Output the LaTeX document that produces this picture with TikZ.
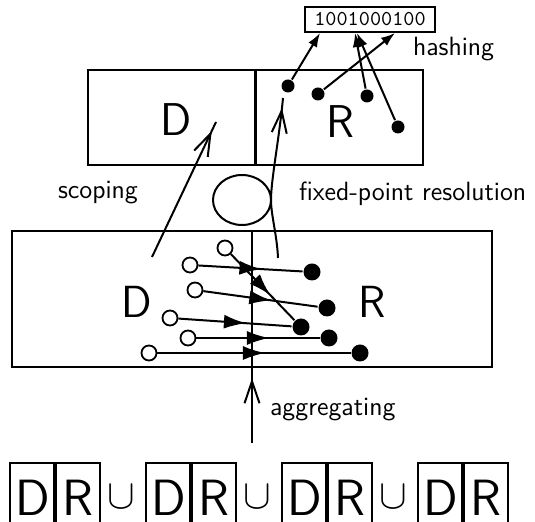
\documentclass[tikz,border=0pt]{standalone}
\usepackage{amsmath, amssymb}
\usetikzlibrary{positioning, arrows.meta, decorations.markings}

\begin{document}
\begin{tikzpicture}[
                x=0.5pt, y=-0.5pt,
                line width=1pt,
                frame/.style={draw, line width=1.2pt, inner sep=0},
                letter/.style={inner sep=0, font=\sffamily\fontsize{23}{23}\selectfont},
                cell/.style={
                    draw,
                    anchor=north west,
                    minimum width=22pt,
                    minimum height=35pt,
                    inner sep=0
                },
                cellletter/.style={inner sep=0, font=\sffamily\fontsize{25.5}{26}\selectfont},
                caption/.style={anchor=base west, inner sep=0, font=\sffamily\fontsize{13.2}{14}\selectfont},
                hollow/.style={circle, draw, line width=0.9pt, fill=white, minimum size=7.5pt, inner sep=0},
                full/.style={circle, fill, minimum size=8.5pt, inner sep=0},
                small/.style={circle, fill, minimum size=6.5pt, inner sep=0},
                midarrow/.style={
                    postaction={decorate},
                    decoration={markings,
                        mark=at position 0.5 with {\arrow[xshift=5.5pt]{Latex[length=11pt,width=7pt]}}}
                },
                barb/.style={
                    postaction={decorate},
                    decoration={markings,
                        mark=at position -5pt with {\arrow{Straight Barb[length=11pt,width=7.5pt]}}}
                },
                hasharrow/.style={-{Latex[length=7pt,width=5pt]}}
            ]
            \useasboundingbox (0,0) rectangle (535,522);
            \clip (0,0) rectangle (535,522);

            % oberer Kasten
            \node[frame, minimum width=167.5pt, minimum height=47.5pt] (top) at (255.5,117.5) {};
            \draw[line width=1.2pt] (top.north) -- (top.south);
            \node[letter] (topD) at (176,120) {D};
            \node[letter] (topR) at (340,122) {R};

            % hashing
            \node[frame, line width=1pt, minimum width=65pt, minimum height=12.5pt,
                font=\ttfamily\fontsize{10.6}{11}\selectfont] (hash) at (370,19.5) {1001000100};
            \node[caption] (hashing) at (412,56) {hashing};
            \node[small] (r1) at (288,86) {};
            \node[small] (r2) at (318,94) {};
            \node[small] (r3) at (367,96) {};
            \node[small] (r4) at (398,127) {};
            \coordinate (h1) at ([xshift=-25pt]hash.south);
            \coordinate (h2) at ([xshift=12.5pt]hash.south);
            \coordinate (h3) at ([xshift=-7.5pt]hash.south);
            \coordinate (h4) at ([xshift=-6.5pt]hash.south);
            \draw[hasharrow] (r1) -- (h1);
            \draw[hasharrow] (r2) -- (h2);
            \draw[hasharrow] (r3) -- (h3);
            \draw[hasharrow] (r4) -- (h4);

            % unterer Kasten
            \node[frame, minimum width=240pt, minimum height=68pt] (low) at (252,299) {};
            \draw (low.north) -- (low.south);
            \node[letter, font=\sffamily\fontsize{22.5}{23}\selectfont] (lowD) at (137,302) {D};
            \node[letter, font=\sffamily\fontsize{22.5}{23}\selectfont] (lowR) at (372,302) {R};

            \node[hollow] (o1) at (225,248) {};
            \node[hollow] (o2) at (190,265) {};
            \node[hollow] (o3) at (195,290) {};
            \node[hollow] (o4) at (170,318) {};
            \node[hollow] (o5) at (188,338) {};
            \node[hollow] (o6) at (149,353) {};
            \node[full] (f1) at (312,272) {};
            \node[full] (f2) at (327,308) {};
            \node[full] (f3) at (301,327) {};
            \node[full] (f4) at (329,338) {};
            \node[full] (f5) at (360,353) {};
            \draw[midarrow] (o1) -- (f3);
            \draw[midarrow] (o2) -- (f1);
            \draw[midarrow] (o3) -- (f2);
            \draw[midarrow] (o4) -- (f3);
            \draw[midarrow] (o5) -- (f4);
            \draw[midarrow] (o6) -- (f5);

            % scoping
            \coordinate (sc0) at (152,257);
            \coordinate (sc1) at (216,122);
            \draw[barb] (sc0) -- (sc1);
            \node[caption] (scoping) at (57,199) {scoping};

            % fixed-point resolution
            \coordinate (fp0) at (278,258);
            \coordinate (fp1) at (283,98);
            \draw[barb] (fp0) .. controls (277,235) and (271,215) .. (271,200)
                arc[start angle=0, end angle=-360, x radius=29, y radius=25]
                .. controls (271,180) and (279,140) .. (fp1);
            \node[caption] (fixpoint) at (298,201) {fixed-point resolution};

            % aggregating
            \coordinate (ag0) at (252,443);
            \draw[barb] (ag0) -- (low.south);
            \node[caption] (aggregating) at (269,416) {aggregating};

            % D|R u D|R u ...
            \foreach \i/\x in {1/9, 2/145, 3/281, 4/417} {
                \node[cell] (d\i) at (\x,462) {};
                \node[cell] (e\i) at (d\i.north east) {};
                \node[cellletter] (dl\i) at ([xshift=0.5pt]d\i.center) {D};
                \node[cellletter] (el\i) at (e\i.center) {R};
            }
            \foreach \i/\x in {1/121, 2/257, 3/393}
                \node[inner sep=0, font=\fontsize{20}{20}\selectfont] (u\i) at (\x,497) {$\cup$};
            \end{tikzpicture}
\end{document}
